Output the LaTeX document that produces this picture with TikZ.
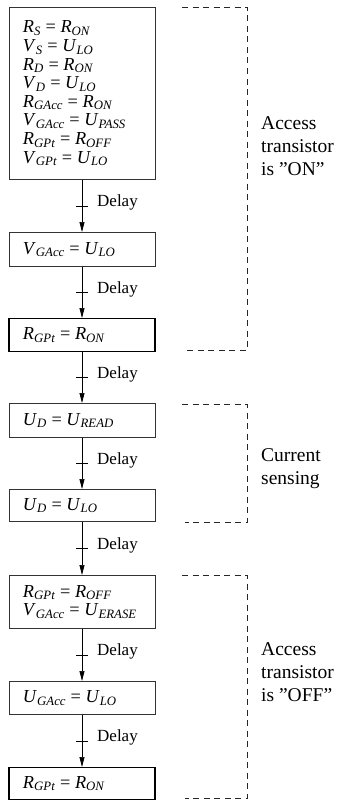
\documentclass[tikz,border=0pt]{standalone}
\usepackage{fontspec}
\setmainfont{Liberation Serif}
\usetikzlibrary{arrows.meta}
\newcommand\vv[4]{\textit{#1}\textsubscript{\textit{#2}}\hspace{0.25em}=\hspace{0.25em}\textit{#3}\textsubscript{\textit{#4}}}
\begin{document}
\begin{tikzpicture}[x=1pt,y=-1pt,
  stepbox/.style={draw=black!80, line width=0.8pt, minimum width=146pt, text width=118pt,
    inner xsep=14pt, inner ysep=0pt, align=left, anchor=north, font=\fontsize{18.3}{18.6}\selectfont},
  boldbox/.style={stepbox, line width=1.3pt, draw=black},
  conn/.style={line width=0.7pt, -{Triangle[length=10pt,width=5pt]}},
  tickline/.style={line width=0.7pt},
  delaylbl/.style={anchor=base west, inner sep=0pt, font=\fontsize{17}{20}\selectfont},
  bracket/.style={line width=0.7pt, draw=black!85, dash pattern=on 6pt off 4.5pt},
  lbl/.style={anchor=west, align=left, inner sep=0pt, font=\fontsize{19.5}{23}\selectfont}]
\useasboundingbox (0,0) rectangle (337,800);

\node[stepbox, minimum height=172pt] (b1) at (82,7) {\vv{R}{S}{R}{ON}\\ \vv{V}{S}{U}{LO}\\ \vv{R}{D}{R}{ON}\\ \vv{V}{D}{U}{LO}\\ \vv{R}{GAcc}{R}{ON}\\ \vv{V}{GAcc}{U}{PASS}\\ \vv{R}{GPt}{R}{OFF}\\ \vv{V}{GPt}{U}{LO}};
\node[stepbox, minimum height=34pt] (b2) at (82,232) {\vv{V}{GAcc}{U}{LO}};
\node[boldbox, minimum height=33pt] (b3) at (82,318) {\vv{R}{GPt}{R}{ON}};
\node[stepbox, minimum height=34pt] (b4) at (82,403) {\vv{U}{D}{U}{READ}};
\node[stepbox, minimum height=32pt] (b5) at (82,489) {\vv{U}{D}{U}{LO}};
\node[stepbox, minimum height=53pt] (b6) at (82,575) {\vv{R}{GPt}{R}{OFF}\\ \vv{V}{GAcc}{U}{ERASE}};
\node[stepbox, minimum height=33pt] (b7) at (82,681) {\vv{U}{GAcc}{U}{LO}};
\node[boldbox, minimum height=32pt] (b8) at (82,767) {\vv{R}{GPt}{R}{ON}};

\foreach \a/\b/\i in {b1/b2/1, b2/b3/2, b3/b4/3, b4/b5/4, b5/b6/5, b6/b7/6, b7/b8/7}{
  \draw[conn] (\a.south) -- (\b.north) coordinate[midway] (m\i);
  \draw[tickline] (m\i) ++(-6,0) -- ++(12,0);
  \node[delaylbl] (d\i) at ([xshift=15pt,yshift=-1pt]m\i) {Delay};
}

\draw[bracket] (182,7) -- (247,7) -- (247,350) -- (187,350);
\draw[bracket] (182,404) -- (247,404) -- (247,522) -- (185,522);
\draw[bracket] (182,575) -- (247,575) -- (247,798) -- (185,798);

\node[lbl] (l1) at (261,146) {Access\\transistor\\is ''ON''};
\node[lbl] (l2) at (261,469) {Current\\sensing};
\node[lbl] (l3) at (261,672) {Access\\transistor\\is ''OFF''};
\end{tikzpicture}
\end{document}
